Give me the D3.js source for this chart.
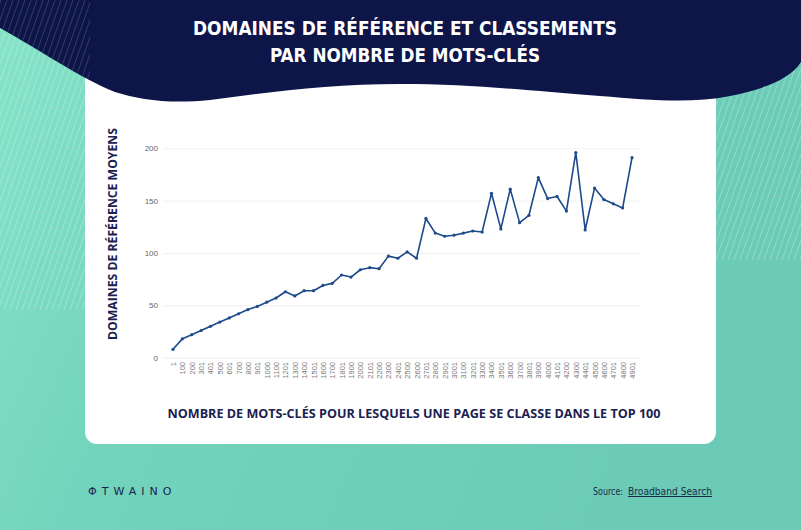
<!DOCTYPE html>
<html><head><meta charset="utf-8">
<script src="https://cdn.jsdelivr.net/npm/d3@7"></script>
<style>body{margin:0;padding:0;overflow:hidden}svg{display:block}</style>
</head><body>
<script>
const xLabels = ["1","100","200","301","401","500","601","700","800","901","1000","1100","1201","1300","1400","1501","1600","1700","1801","1900","2000","2101","2200","2300","2401","2500","2600","2701","2800","2901","3001","3100","3201","3300","3400","3501","3600","3700","3801","3900","4000","4101","4200","4300","4401","4500","4600","4701","4800","4901"];
const avgDomains = [8,18,22,26,30,34,38,42,46,49,53,57,63,59,64,64,69,71,79,77,84,86,85,97,95,101,95,133,119,116,117,119,121,120,157,123,161,129,136,172,152,154,140,196,122,162,151,147,143,191];
const yTicks = [0,50,100,150,200];
const titleLines = ["DOMAINES DE RÉFÉRENCE ET CLASSEMENTS","PAR NOMBRE DE MOTS-CLÉS"];
const yTitle = "DOMAINES DE RÉFÉRENCE MOYENS";
const xTitle = "NOMBRE DE MOTS-CLÉS POUR LESQUELS UNE PAGE SE CLASSE DANS LE TOP 100";

const W=801,H=530;
const navy="#0d1549", lineCol="#1d4a8a", textNavy="#1b2150";
const svg=d3.select("body").append("svg").attr("width",W).attr("height",H);
const defs=svg.append("defs");
const bg=defs.append("linearGradient").attr("id","bg").attr("x1","0").attr("y1","0").attr("x2","1").attr("y2","0.3");
bg.append("stop").attr("offset","0").attr("stop-color","#86e4c8");
bg.append("stop").attr("offset","0.35").attr("stop-color","#72d4bc");
bg.append("stop").attr("offset","1").attr("stop-color","#6bcbb6");
svg.append("rect").attr("width",W).attr("height",H).attr("fill","url(#bg)");

// striped side zones
function stripes(id,x,y,w,h){
  defs.append("clipPath").attr("id",id).append("rect").attr("x",x).attr("y",y).attr("width",w).attr("height",h);
  const g=svg.append("g").attr("clip-path",`url(#${id})`);
  for(let k=-h;k<w+h;k+=6){
    g.append("line").attr("x1",x+k).attr("y1",y+h).attr("x2",x+k+h*0.35).attr("y2",y)
      .attr("stroke","#ffffff").attr("stroke-opacity",0.35).attr("stroke-width",0.8);
  }
}
stripes("cl1",0,20,90,290);
stripes("cl2",712,60,89,200);

// card
svg.append("rect").attr("x",85).attr("y",50).attr("width",631).attr("height",394).attr("rx",12).attr("fill","#ffffff");

// navy wave header
svg.append("path").attr("fill",navy).attr("d",
 "M0,0 L801,0 L801,62 C790,80 760,90 730,96 C690,104 650,100 600,96 C520,90 470,84 400,84 C330,84 270,92 210,100 C170,104 140,100 115,92 C80,78 40,50 0,28 Z");
// stripes on navy left top
(function(){
  defs.append("clipPath").attr("id","cl3").append("path").attr("d","M0,0 L90,0 L90,80 C60,65 30,45 0,28 Z");
  const g=svg.append("g").attr("clip-path","url(#cl3)");
  for(let k=-100;k<200;k+=6){
    g.append("line").attr("x1",k).attr("y1",100).attr("x2",k+35).attr("y2",0)
     .attr("stroke","#ffffff").attr("stroke-opacity",0.25).attr("stroke-width",0.7);
  }
})();

// title
const tt=svg.append("g");
tt.append("text").attr("x",405).attr("y",35).attr("text-anchor","middle")
 .attr("font-family","'DejaVu Sans Condensed','DejaVu Sans',sans-serif").attr("font-stretch","condensed")
 .attr("font-weight","bold").attr("font-size",19).attr("fill","#fff")
 .attr("textLength",424).attr("lengthAdjust","spacingAndGlyphs").text(titleLines[0]);
tt.append("text").attr("x",405).attr("y",62).attr("text-anchor","middle")
 .attr("font-family","'DejaVu Sans Condensed','DejaVu Sans',sans-serif").attr("font-stretch","condensed")
 .attr("font-weight","bold").attr("font-size",19).attr("fill","#fff")
 .attr("textLength",270).attr("lengthAdjust","spacingAndGlyphs").text(titleLines[1]);

// scales
const x=d3.scalePoint().domain(xLabels).range([173,632]);
const y=d3.scaleLinear().domain([0,200]).range([357.7,148.3]);

// gridlines
const grid=svg.append("g").attr("transform","translate(163,0)")
 .call(d3.axisLeft(y).tickValues(yTicks).tickSize(-478).tickFormat(""));
grid.select(".domain").remove();
grid.selectAll("line").attr("stroke","#ececec").attr("stroke-width",0.8);

// y axis labels
const ya=svg.append("g").attr("transform","translate(158,0)")
 .call(d3.axisLeft(y).tickValues(yTicks).tickSize(0).tickPadding(0));
ya.select(".domain").remove();
ya.selectAll("text").attr("font-family","'Liberation Sans',Arial,sans-serif").attr("font-size",8).attr("fill","#666");

// x axis labels
const xa=svg.append("g").attr("transform","translate(0,358)")
 .call(d3.axisBottom(x).tickSize(0).tickPadding(0));
xa.select(".domain").remove();
xa.selectAll("text").attr("font-family","'Liberation Sans',Arial,sans-serif").attr("font-size",7.5).attr("fill","#777")
 .attr("text-anchor","end").attr("dy",0).attr("dx",0)
 .attr("transform","translate(2.5,4) rotate(-90)");

// line
const line=d3.line().x((d,i)=>x(xLabels[i])).y(d=>y(d));
svg.append("path").datum(avgDomains).attr("fill","none").attr("stroke",lineCol).attr("stroke-width",1.6)
 .attr("stroke-linejoin","round").attr("d",line);
svg.append("g").selectAll("circle").data(avgDomains).join("circle")
 .attr("cx",(d,i)=>x(xLabels[i])).attr("cy",d=>y(d)).attr("r",1.6).attr("fill",lineCol);

// axis titles
svg.append("text").attr("transform","translate(117,234) rotate(-90)").attr("text-anchor","middle")
 .attr("font-family","'Open Sans',sans-serif").attr("font-weight","bold").attr("font-size",12).attr("fill",textNavy)
 .attr("textLength",212).attr("lengthAdjust","spacingAndGlyphs").text(yTitle);
svg.append("text").attr("x",414).attr("y",418).attr("text-anchor","middle")
 .attr("font-family","'Open Sans',sans-serif").attr("font-weight","bold").attr("font-size",12).attr("fill",textNavy)
 .attr("textLength",493).attr("lengthAdjust","spacingAndGlyphs").text(xTitle);

// footer
svg.append("text").attr("x",88).attr("y",495).attr("font-family","'DejaVu Sans',sans-serif").attr("font-size",11)
 .attr("fill",textNavy).attr("letter-spacing",5).text("ΦTWAINO");
svg.append("text").attr("x",593).attr("y",495).attr("font-family","'Liberation Sans Narrow','DejaVu Sans Condensed',sans-serif")
 .attr("font-size",10).attr("fill","#1b2a4a")
 .attr("textLength",30).attr("lengthAdjust","spacingAndGlyphs").text("Source:");
svg.append("text").attr("x",628).attr("y",495).attr("font-family","'Liberation Sans Narrow','DejaVu Sans Condensed',sans-serif")
 .attr("font-size",10).attr("fill","#1b2a4a").attr("text-decoration","underline")
 .attr("textLength",84).attr("lengthAdjust","spacingAndGlyphs").text("Broadband Search");
</script>
</body></html>
